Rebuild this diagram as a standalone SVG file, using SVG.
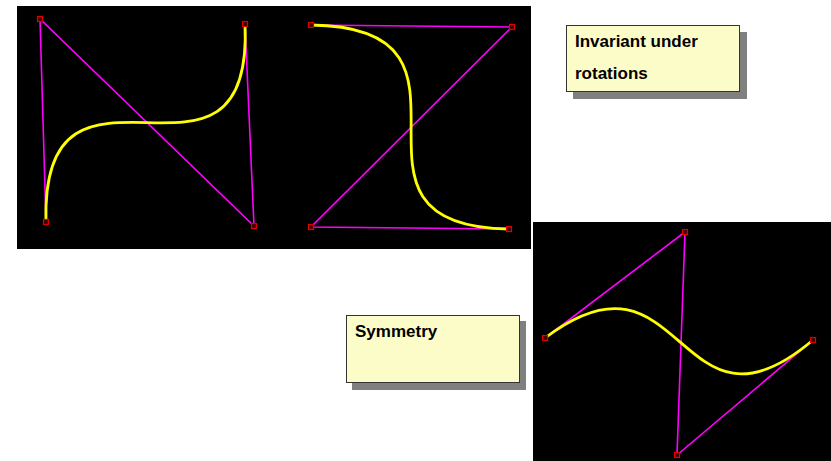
<svg xmlns="http://www.w3.org/2000/svg" width="831" height="461" viewBox="0 0 831 461">
<style>
.panel{fill:#000}
.poly{fill:none;stroke:#ff00ff;stroke-width:1.6}
.curve{fill:none;stroke:#ffff00;stroke-width:2.8;stroke-linecap:round}
.cp{fill:#400000;stroke:#e00000;stroke-width:1.2}
.shadow{fill:#808080}
.box{fill:#fcfcc8;stroke:#333;stroke-width:1}
.lbl{font-family:"Liberation Sans",Arial,sans-serif;font-weight:bold;font-size:17px;fill:#000}
</style>
<rect width="831" height="461" fill="#fff"/>
<g id="panel1">
<rect class="panel" x="17" y="6" width="514" height="243"/>
</g>
<g id="panel2">
<rect class="panel" x="533" y="222" width="298" height="239"/>
</g>
<g id="connectors">
<polyline class="poly" points="46,222 40,19 254,226 245,24"/>
<path class="curve" d="M46,222 C40,19 254,226 245,24"/>
<polyline class="poly" points="311,25 512,27 311,227 509,229"/>
<path class="curve" d="M311,25 C512,27 311,227 509,229"/>
<polyline class="poly" points="545,338 685,232 677,455 813,340"/>
<path class="curve" d="M545,338 C685,232 677,455 813,340"/>
</g>
<g id="controlpoints">
<rect class="cp" x="43.5" y="219.5" width="5" height="5"/>
<rect class="cp" x="37.5" y="16.5" width="5" height="5"/>
<rect class="cp" x="251.5" y="223.5" width="5" height="5"/>
<rect class="cp" x="242.5" y="21.5" width="5" height="5"/>
<rect class="cp" x="308.5" y="22.5" width="5" height="5"/>
<rect class="cp" x="509.5" y="24.5" width="5" height="5"/>
<rect class="cp" x="308.5" y="224.5" width="5" height="5"/>
<rect class="cp" x="506.5" y="226.5" width="5" height="5"/>
<rect class="cp" x="542.5" y="335.5" width="5" height="5"/>
<rect class="cp" x="682.5" y="229.5" width="5" height="5"/>
<rect class="cp" x="674.5" y="452.5" width="5" height="5"/>
<rect class="cp" x="810.5" y="337.5" width="5" height="5"/>
</g>
<g id="label-rotations">
<rect class="shadow" x="573" y="32" width="174" height="67"/>
<rect class="box" x="566.5" y="25.5" width="173" height="66"/>
<text class="lbl" x="575" y="46.5">Invariant under</text>
<text class="lbl" x="575" y="78.5">rotations</text>
</g>
<g id="label-symmetry">
<rect class="shadow" x="352" y="321" width="174" height="69"/>
<rect class="box" x="346.5" y="315.5" width="173" height="67"/>
<text class="lbl" x="355" y="336.5">Symmetry</text>
</g>
</svg>
